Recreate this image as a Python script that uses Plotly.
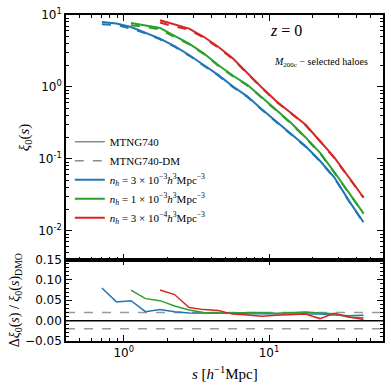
import plotly.graph_objects as go

# separations s [h^-1 Mpc] (bin centres)
s_all = [0.708, 0.891, 1.122, 1.413, 1.778, 2.239, 2.818, 3.548, 4.467, 5.623,
         7.079, 8.913, 11.22, 14.13, 17.78, 22.39, 28.18, 35.48, 44.67]
s_blue = s_all
s_green = s_all[2:]
s_red = s_all[4:]

# xi_0(s), MTNG740 (full physics)
xi_blue = [8.0, 7.6, 6.8, 5.7, 4.7, 3.7, 2.78, 2.02, 1.47, 1.02, 0.74, 0.49, 0.334,
           0.223, 0.151, 0.094, 0.055, 0.026, 0.0131]
xi_green = [7.76, 7.2, 6.6, 5.13, 4.0, 2.93, 2.02, 1.44, 1.07, 0.72, 0.48, 0.317,
            0.20, 0.122, 0.065, 0.034, 0.0174]
xi_red = [8.45, 7.35, 6.47, 4.98, 3.62, 2.5, 1.55, 0.98, 0.63, 0.435, 0.30, 0.177,
          0.104, 0.055, 0.029]

# xi_0(s), MTNG740-DM
xi_blue_dm = [7.41, 7.27, 6.48, 5.58, 4.58, 3.62, 2.73, 1.98, 1.44, 1.0, 0.728, 0.482,
              0.329, 0.219, 0.148, 0.0925, 0.0542, 0.0257, 0.01293]
xi_green_dm = [7.22, 6.83, 6.29, 4.95, 3.9, 2.87, 1.98, 1.41, 1.05, 0.706, 0.472,
               0.311, 0.196, 0.12, 0.0639, 0.0337, 0.0173]
xi_red_dm = [7.86, 6.91, 6.27, 4.85, 3.53, 2.46, 1.53, 0.969, 0.622, 0.429, 0.295,
             0.176, 0.102, 0.0545, 0.0289]

# relative difference Delta xi / xi_DMO
rel_blue = [0.080, 0.046, 0.049, 0.022, 0.027, 0.022, 0.019, 0.019, 0.018, 0.018,
            0.017, 0.017, 0.016, 0.017, 0.017, 0.016, 0.014, 0.012, 0.013]
rel_green = [0.075, 0.054, 0.049, 0.036, 0.026, 0.020, 0.019, 0.019, 0.020, 0.020,
             0.018, 0.020, 0.021, 0.019, 0.017, 0.008, 0.007]
rel_red = [0.075, 0.064, 0.032, 0.027, 0.025, 0.016, 0.014, 0.011, 0.013, 0.015,
           0.016, 0.005, 0.018, 0.009, 0.003]

labels = ["<i>n<sub>h</sub></i> = 3 × 10<sup>−3</sup><i>h</i><sup>3</sup>Mpc<sup>−3</sup>",
          "<i>n<sub>h</sub></i> = 1 × 10<sup>−3</sup><i>h</i><sup>3</sup>Mpc<sup>−3</sup>",
          "<i>n<sub>h</sub></i> = 3 × 10<sup>−4</sup><i>h</i><sup>3</sup>Mpc<sup>−3</sup>"]
colors = ["#1f77b4", "#2ca02c", "#d62728"]

ref_lines = [0.0, 0.02, -0.02]

SERIF = "Liberation Serif"
SANS = "DejaVu Sans"

fig = go.Figure()

# legend-only entries
fig.add_trace(go.Scatter(x=[None], y=[None], mode="lines", name="MTNG740",
                         line=dict(color="#8c8c8c", width=1.5), xaxis="x", yaxis="y"))
fig.add_trace(go.Scatter(x=[None], y=[None], mode="lines", name="MTNG740-DM",
                         line=dict(color="#8c8c8c", width=1.5, dash="dash"), xaxis="x", yaxis="y"))

series = [(s_blue, xi_blue, xi_blue_dm, rel_blue),
          (s_green, xi_green, xi_green_dm, rel_green),
          (s_red, xi_red, xi_red_dm, rel_red)]

for (s, xi, xidm, rel), c, lab in zip(series, colors, labels):
    fig.add_trace(go.Scatter(x=s, y=xidm, mode="lines", showlegend=False,
                             line=dict(color=c, width=2, dash="dash"), xaxis="x", yaxis="y"))
    fig.add_trace(go.Scatter(x=s, y=xi, mode="lines", name=lab,
                             line=dict(color=c, width=2), xaxis="x", yaxis="y"))
    fig.add_trace(go.Scatter(x=s, y=rel, mode="lines", showlegend=False,
                             line=dict(color=c, width=1.5), xaxis="x2", yaxis="y2"))

for v in ref_lines:
    fig.add_shape(type="line", xref="x2 domain", yref="y2", x0=0, x1=1, y0=v, y1=v,
                  line=dict(color="black" if v == 0 else "#999999", width=1.5,
                            dash="solid" if v == 0 else "dash"), layer="below")

axis_common = dict(showline=True, linecolor="black", linewidth=1.5, mirror="ticks",
                   ticks="inside", ticklen=6, tickwidth=1.2, tickcolor="black",
                   showgrid=False, zeroline=False,
                   tickfont=dict(family=SANS, size=12, color="black"))

minor_log = dict(dtick="D1", ticks="inside", ticklen=3,
                 tickwidth=1, tickcolor="black", showgrid=False)

fig.update_layout(
    width=391, height=388,
    margin=dict(l=66, r=6.5, t=13, b=47),
    paper_bgcolor="white", plot_bgcolor="white",
    showlegend=True,
    legend=dict(x=0.012, y=0.495, xanchor="left", yanchor="middle",
                bgcolor="rgba(0,0,0,0)", borderwidth=0, tracegroupgap=0,
                font=dict(family=SERIF, size=11, color="black")),
    xaxis=dict(type="log", range=[-0.397, 1.784], domain=[0, 1], anchor="y",
               showticklabels=False, tickmode="array", tickvals=[1, 10],
               minor=minor_log, **axis_common),
    yaxis=dict(type="log", range=[-2.40, 1.0], domain=[0.25, 1], anchor="x",
               tickmode="array", tickvals=[0.01, 0.1, 1, 10],
               ticktext=["10<sup>-2</sup>", "10<sup>-1</sup>", "10<sup>0</sup>", "10<sup>1</sup>"],
               minor=minor_log, **axis_common),
    xaxis2=dict(type="log", range=[-0.397, 1.784], domain=[0, 1], anchor="y2",
                tickmode="array", tickvals=[1, 10],
                ticktext=["10<sup>0</sup>", "10<sup>1</sup>"],
                minor=minor_log, **axis_common),
    yaxis2=dict(range=[-0.05, 0.15], domain=[0, 0.25], anchor="x2",
                tickmode="array", tickvals=[-0.05, 0.0, 0.05, 0.10, 0.15],
                ticktext=["−0.05", "0.00", "0.05", "0.10", "0.15"],
                minor=dict(dtick=0.01, tick0=0, ticks="inside", ticklen=3, tickwidth=1,
                           tickcolor="black", showgrid=False),
                **axis_common),
)

fig.add_annotation(text="<i>ξ</i><sub>0</sub>(<i>s</i>)", xref="paper", yref="paper",
                   x=0, y=0.625, xshift=-41, textangle=-90, showarrow=False,
                   xanchor="center", yanchor="middle",
                   font=dict(family=SERIF, size=15, color="black"))
fig.add_annotation(text="Δ<i>ξ</i><sub>0</sub>(<i>s</i>) / <i>ξ</i><sub>0</sub>(<i>s</i>)<sub>DMO</sub>",
                   xref="paper", yref="paper", x=0, y=0.125, xshift=-51, textangle=-90,
                   xanchor="center", yanchor="middle",
                   showarrow=False, font=dict(family=SERIF, size=14, color="black"))
fig.add_annotation(text="<i>s</i> [<i>h</i><sup>−1</sup>Mpc]", xref="paper", yref="paper",
                   x=0.5, y=0, yshift=-32, showarrow=False,
                   xanchor="center", yanchor="middle",
                   font=dict(family=SERIF, size=15, color="black"))
fig.add_annotation(text="<i>z</i> = 0", xref="paper", yref="paper",
                   x=0.694, y=0.951, showarrow=False,
                   xanchor="center", yanchor="middle",
                   font=dict(family=SERIF, size=16, color="black"))
fig.add_annotation(text="<i>M</i><sub>200c</sub> − selected haloes", xref="paper", yref="paper",
                   x=0.804, y=0.854, showarrow=False,
                   xanchor="center", yanchor="middle",
                   font=dict(family=SERIF, size=10, color="black"))

fig.write_html("out.html", config={"displayModeBar": False},
               post_script="document.body.style.margin='0';")
